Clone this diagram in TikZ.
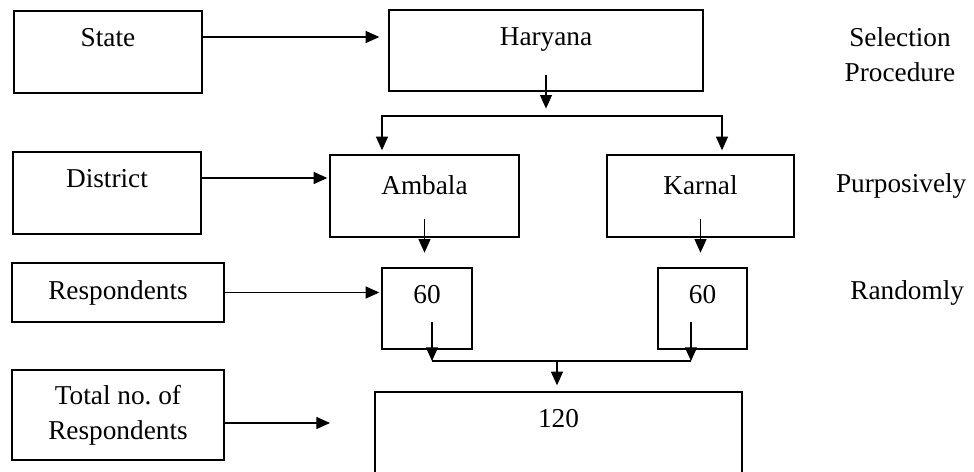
\documentclass[tikz,border=0pt]{standalone}
\usepackage{fontspec}
\setmainfont{Liberation Serif}
\usetikzlibrary{arrows.meta, positioning, calc}

\begin{document}
\begin{tikzpicture}[
    font=\fontsize{19.4}{25}\selectfont,
    >={Triangle[length=3.4mm, width=3mm]},
    stagebox/.style={draw, line width=1pt, inner sep=0pt, text height=0.9cm},
    namebox/.style={draw, line width=1pt, inner sep=0pt, align=center},
    conn/.style={line width=0.75pt},
  ]
  \useasboundingbox (0,0) rectangle (24.35,11.8);
  \clip (0,0) rectangle (24.35,11.8);

  % Levels (left column)
  \node[stagebox, minimum width=4.7cm, text depth=1.15cm] (state) at (2.7, 10.5) {State};
  \node[stagebox, minimum width=4.7cm, text depth=1.15cm] (district) at (2.675, 6.975) {District};
  \node[namebox, minimum width=5.3cm, minimum height=1.475cm] (resp) at (2.95, 4.4875) {Respondents};
  \node[namebox, minimum width=5.3cm, minimum height=2.25cm] (total) at (2.95, 1.425) {Total no.\ of\\Respondents};

  % Units selected
  \node[stagebox, minimum width=7.85cm, text depth=1.125cm] (haryana) at (13.65, 10.54) {Haryana};
  \node[stagebox, minimum width=4.725cm, text height=1cm, text depth=1.05cm] (ambala) at (10.6125, 6.9) {Ambala};
  \node[stagebox, minimum width=4.675cm, text height=1cm, text depth=1.05cm] (karnal) at (17.5125, 6.9) {Karnal};
  \node[stagebox, minimum width=2.25cm, text depth=1.125cm] (sixtyl) at (10.675, 4.0875) {60};
  \node[stagebox, minimum width=2.225cm, text depth=1.125cm] (sixtyr) at (17.5625, 4.0875) {60};
  \node[stagebox, minimum width=9.175cm, text depth=2.1cm] (hundred) at (13.9625, 0.5) {120};

  % Selection procedure (right column)
  \node[align=center] (select) at (22.5, 10.44) {Selection\\Procedure};
  \node (purpose) at (22.53, 7.15) {Purposively};
  \node (random) at (22.68, 4.475) {Randomly};

  % Level arrows
  \draw[conn, ->, shorten >=2.25mm] ([yshift=3.75mm]state.east) -- ([yshift=3.75mm]state.east -| haryana.west);
  \draw[conn, ->, shorten >=0.5mm] ([yshift=3.75mm]district.east) -- ([yshift=3.75mm]district.east -| ambala.west);
  \draw[conn, ->, shorten >=0.5mm] (resp.east) -- (resp.east -| sixtyl.west);
  \coordinate (tend) at (8.25, 1.225);
  \draw[conn, ->] (total.east |- tend) -- (tend);

  % State to districts
  \draw[conn, ->] ([yshift=4.25mm]haryana.south) -- ([yshift=-4.25mm]haryana.south);
  \coordinate (bl) at (9.55, 8.9);
  \coordinate (br) at (18.05, 8.9);
  \draw[conn, <->, shorten <=1mm, shorten >=1mm] (bl |- ambala.north) -- (bl) -- (br) -- (br |- karnal.north);

  % Districts to respondents
  \draw[conn, ->] ([yshift=4.75mm]ambala.south) -- ([yshift=-3.75mm]ambala.south);
  \draw[conn, ->] ([yshift=4.75mm]karnal.south) -- ([yshift=-3.75mm]karnal.south);

  % Respondents to total
  \coordinate (jl) at (10.8, 2.775);
  \coordinate (jr) at (17.275, 2.775);
  \coordinate (jm) at (13.925, 2.775);
  \draw[conn, ->] ([yshift=-3.4mm]jl |- sixtyl.center) -- (jl);
  \draw[conn, ->] ([yshift=-3.4mm]jr |- sixtyr.center) -- (jr);
  \draw[conn] (jl) -- (jr);
  \draw[conn, ->, shorten >=1.5mm] (jm) -- (jm |- hundred.north);
\end{tikzpicture}
\end{document}
